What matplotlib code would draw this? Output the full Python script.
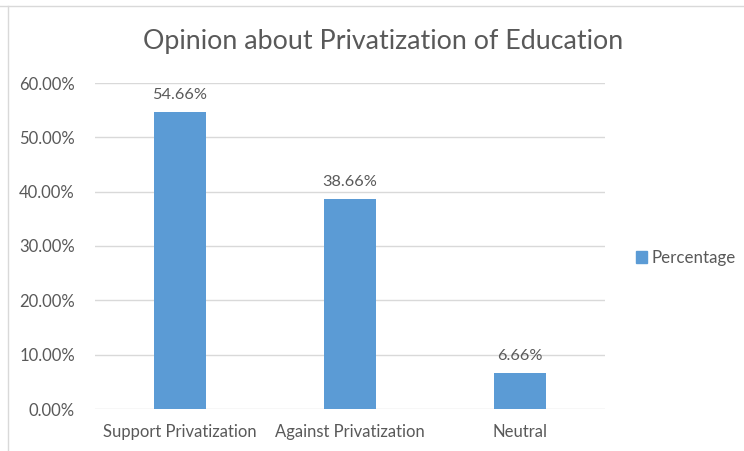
import matplotlib
matplotlib.use("Agg")
import matplotlib.pyplot as plt
from matplotlib.lines import Line2D
from matplotlib.patches import Patch

categories = ["Support Privatization", "Against Privatization", "Neutral"]
values = [54.66, 38.66, 6.66]
labels = ["54.66%", "38.66%", "6.66%"]
yticks = [0, 10, 20, 30, 40, 50, 60]
ytick_labels = ["0.00%", "10.00%", "20.00%", "30.00%", "40.00%", "50.00%", "60.00%"]

plt.rcParams['font.family'] = ['Lato', 'DejaVu Sans']
txt = '#595959'
bar_color = '#5B9BD5'

fig = plt.figure(figsize=(7.44, 4.51), dpi=100)
ax = fig.add_axes([95/744, 42/451, 510/744, 326/451])
x = range(len(categories))
bars = ax.bar(x, values, width=0.31, color=bar_color, zorder=3)
for xi, v, l in zip(x, values, labels):
    ax.annotate(l, (xi, v), xytext=(0, 7), textcoords='offset points',
                ha='center', va='bottom', fontsize=11.7, color=txt)
ax.set_xlim(-0.5, 2.5)
ax.set_ylim(0, 60)
ax.set_yticks(yticks)
ax.set_yticklabels(ytick_labels)
ax.set_xticks(list(x))
ax.set_xticklabels(categories)
ax.tick_params(axis='both', length=0, labelsize=12, colors=txt)
ax.tick_params(axis='y', pad=14.5)
ax.tick_params(axis='x', pad=11)
ax.grid(axis='y', color='#D9D9D9', linewidth=1, zorder=0)
for s in ax.spines.values():
    s.set_visible(False)

fig.text(383/744, 1 - 42/451, "Opinion about Privatization of Education",
         ha='center', va='center', fontsize=19.3, color=txt)

fig.legend(handles=[Patch(color=bar_color, label='Percentage')],
           loc='center left', bbox_to_anchor=(636/744, 1 - 258/451),
           frameon=False, fontsize=12.2, handlelength=0.65, handleheight=0.65,
           handletextpad=0.25, borderpad=0, borderaxespad=0, labelcolor=txt)

fig.add_artist(Line2D([0, 1], [1 - 6/451, 1 - 6/451], transform=fig.transFigure,
                      color='#D9D9D9', linewidth=1))
fig.add_artist(Line2D([8/744, 8/744], [0, 1 - 6/451], transform=fig.transFigure,
                      color='#D9D9D9', linewidth=1))

fig.savefig('out.png', dpi=100)
